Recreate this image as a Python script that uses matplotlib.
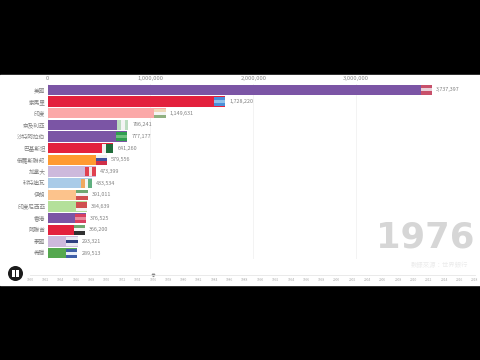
import matplotlib
matplotlib.use("Agg")
import matplotlib.pyplot as plt
from matplotlib.patches import Rectangle, Circle

plt.rcParams['font.family'] = ['Noto Sans CJK TC', 'DejaVu Sans']

countries = ['美國', '索馬里', '印度', '奈及利亞', '沙特阿拉伯', '巴基斯坦', '俄羅斯聯邦', '加拿大',
             '科特迪瓦', '伊朗', '印度尼西亞', '香港', '阿聯酋', '泰國', '希臘']
values = [3737397, 1728220, 1149631, 786241, 777177, 641260, 579556, 473399,
          433534, 391011, 384639, 376525, 366200, 293321, 289513]
colors = ['#7b55a5', '#e3213d', '#fba8a8', '#7b55a5', '#7b55a5', '#e3213d', '#ff9a30', '#cdb9dc',
          '#a9cbe8', '#fcc38c', '#b4e09a', '#7b55a5', '#e3213d', '#cdb9dc', '#55a84f']
# flag stripes: (direction, colours)
flags = [('h', ['#c8506a', '#e8d0d8', '#c8506a']),
         ('h', ['#4a90d9', '#8fc0ea', '#4a90d9']),
         ('h', ['#f0d8b8', '#f4f4f4', '#8fb080']),
         ('v', ['#bcdcc0', '#f4f4f4', '#bcdcc0']),
         ('h', ['#2f9e4f', '#6fbf7f', '#2f9e4f']),
         ('v', ['#f0f0f0', '#1f6b3a', '#1f6b3a']),
         ('h', ['#f0f0f0', '#4050a0', '#d0304a']),
         ('v', ['#e04050', '#f6e4e4', '#e04050']),
         ('v', ['#f0a860', '#f4f4f4', '#60b080']),
         ('h', ['#70a870', '#f4f4f4', '#d05050']),
         ('h', ['#d05050', '#d05050', '#f4f4f4']),
         ('h', ['#d84060', '#e88a9c', '#d84060']),
         ('h', ['#70a870', '#f4f4f4', '#303030']),
         ('h', ['#e8e8f0', '#2f3f80', '#e8e8f0']),
         ('h', ['#3f5fa8', '#e8eef8', '#3f5fa8'])]
x_ticks = [0, 1000000, 2000000, 3000000]
tick_labels = ['0', '1,000,000', '2,000,000', '3,000,000']
year = '1976'
subtitle = '數據來源：世界銀行'
timeline_years = list(range(1960, 2020, 2))
current_year = 1976

W, H = 480, 360
fig = plt.figure(figsize=(4.8, 3.6), dpi=100, facecolor='black')

fig.add_artist(Rectangle((0, 75 / H), 1, 210 / H, transform=fig.transFigure, color='white', zorder=-5))

left, right, top, bottom = 47.5, 480, 84, 259
ax = fig.add_axes([left / W, 1 - bottom / H, (right - left) / W, (bottom - top) / H])
ax.patch.set_alpha(0)
ax.set_xlim(0, (right - left) / 102.9 * 1e6)
ax.set_ylim(14.5, -0.5)
for s in ax.spines.values():
    s.set_visible(False)

ax.barh(range(len(values)), values, height=0.86, color=colors, zorder=2)
ax.set_yticks(range(len(countries)))
ax.set_yticklabels(countries, fontsize=4.1, color='#808080')
ax.tick_params(axis='y', length=0, pad=1.5)
ax.xaxis.tick_top()
ax.set_xticks(x_ticks)
ax.set_xticklabels(tick_labels, fontsize=4.2, color='#888888')
ax.tick_params(axis='x', length=0, pad=2.5)
ax.grid(axis='x', color='#f3f3f3', lw=0.7, zorder=0)

flag_w = 110000
flag_h = 0.8
for i, (v, (direction, stripes)) in enumerate(zip(values, flags)):
    n = len(stripes)
    for k, c in enumerate(stripes):
        if direction == 'h':
            r = Rectangle((v - flag_w, i - flag_h / 2 + k * flag_h / n), flag_w, flag_h / n, color=c, zorder=3, lw=0)
        else:
            r = Rectangle((v - flag_w + k * flag_w / n, i - flag_h / 2), flag_w / n, flag_h, color=c, zorder=3, lw=0)
        ax.add_patch(r)
    ax.text(v + 40000, i, f'{v:,}', va='center', ha='left', fontsize=3.9, color='#808080', zorder=5)

fig.text(474.5 / W, 1 - 238 / H, year, fontsize=25.5, fontweight='bold', color='#d6d6d6',
         ha='right', va='center', family=['DejaVu Sans'])
fig.text(468 / W, 1 - 265 / H, subtitle, fontsize=4.6, color='#ececec', ha='right', va='center')

tl = fig.add_axes([30 / W, 1 - 285 / H, 445 / W, 10 / H])
tl.patch.set_alpha(0)
tl.set_xlim(timeline_years[0], timeline_years[-1])
tl.set_ylim(0, 1)
tl.yaxis.set_visible(False)
for k in ('left', 'right', 'bottom'):
    tl.spines[k].set_visible(False)
tl.spines['top'].set_color('#e6e6e6')
tl.spines['top'].set_linewidth(0.6)
tl.set_xticks(timeline_years)
tl.set_xticklabels([str(y) for y in timeline_years], fontsize=2.4, color='#aaaaaa')
tl.tick_params(axis='x', length=0, direction='in', pad=-5, top=False, bottom=True)
tl.plot([current_year], [1.02], marker='v', ms=1.8, color='#888888', clip_on=False)

btn = fig.add_axes([0, 0, 1, 1])
btn.set_axis_off()
btn.set_xlim(0, W)
btn.set_ylim(H, 0)
btn.patch.set_alpha(0)
btn.add_patch(Circle((15.5, 273.5), 7.5, color='#1b1b1b', lw=0))
btn.add_patch(Rectangle((12.4, 270.3), 2.3, 6.4, color='white', lw=0))
btn.add_patch(Rectangle((16.3, 270.3), 2.3, 6.4, color='white', lw=0))

fig.savefig('out.png', dpi=100, facecolor='black')
